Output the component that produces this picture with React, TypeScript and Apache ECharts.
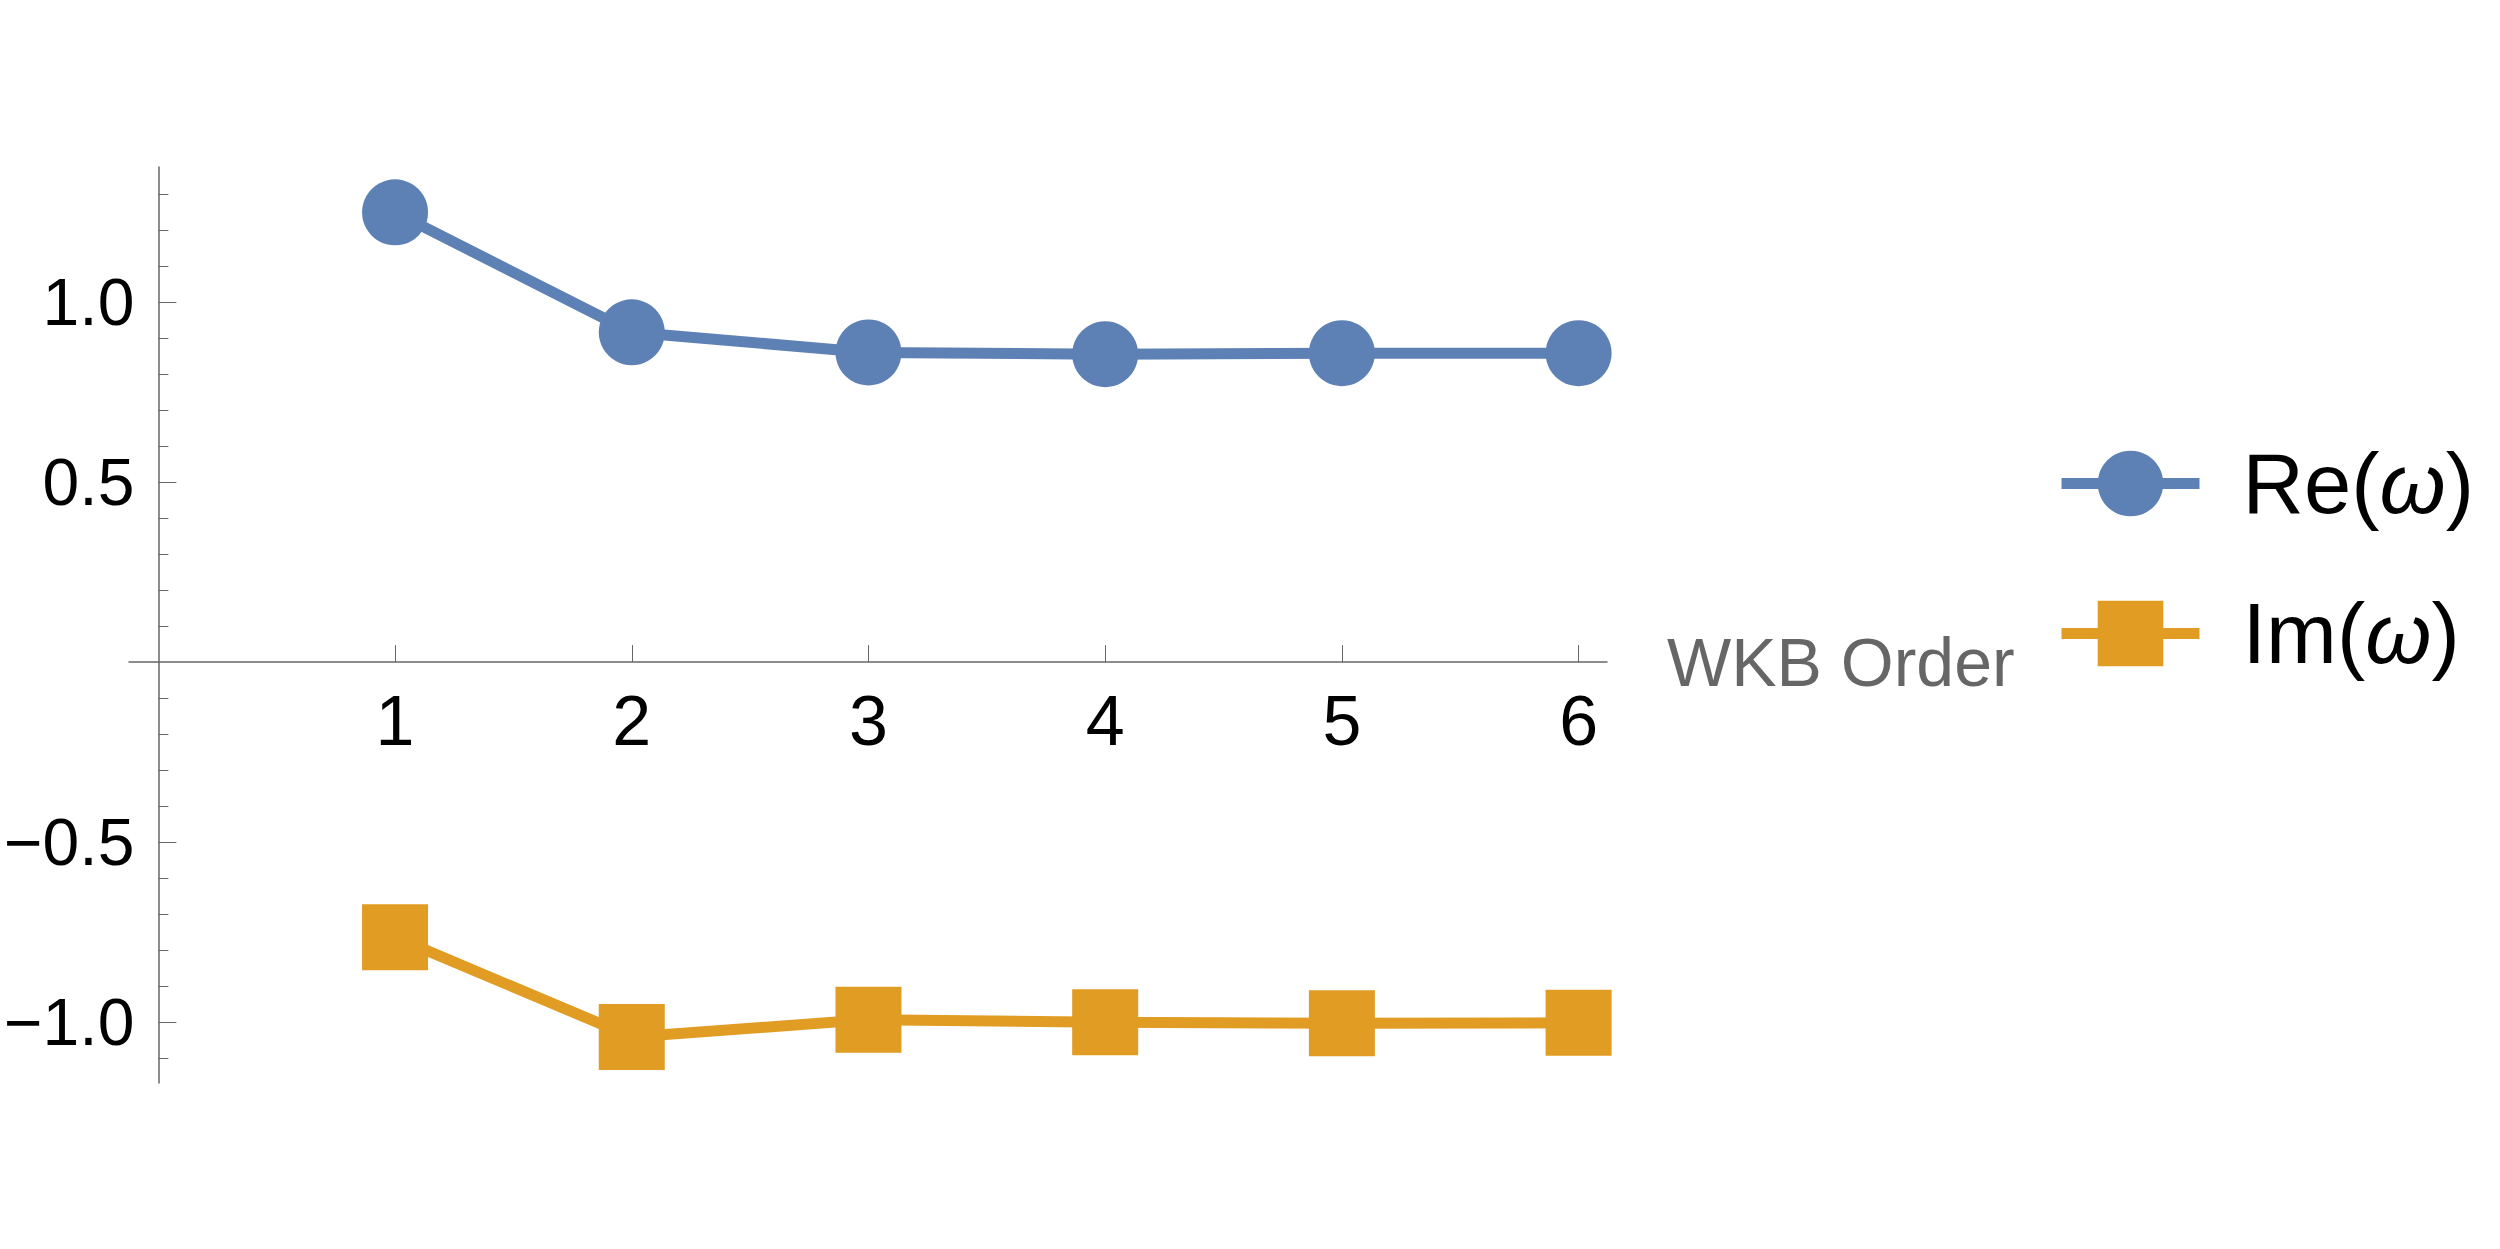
import React, { useEffect, useRef } from "react";
import * as echarts from "echarts";

const orders = [1, 2, 3, 4, 5, 6];
const reValues = [1.249, 0.916, 0.86, 0.855, 0.858, 0.858];
const imValues = [-0.764, -1.041, -0.993, -1.0, -1.003, -1.002];
const xTickValues = [1, 2, 3, 4, 5, 6];
const yMajorTicks = [-1.0, -0.5, 0.5, 1.0];
const yMinorTicks = [
  -1.1, -0.9, -0.8, -0.7, -0.6, -0.4, -0.3, -0.2, -0.1,
  0.1, 0.2, 0.3, 0.4, 0.6, 0.7, 0.8, 0.9, 1.1, 1.2, 1.3,
];
const seriesNames = ["Re(ω)", "Im(ω)"];

const FONT = "Liberation Sans, Arial, sans-serif";
const AXIS_COLOR = "#666666";
const BLUE = "#5E81B5";
const ORANGE = "#E19C24";

// grid geometry (pixels)
const GRID_LEFT = 129;
const GRID_RIGHT = 893;
const GRID_TOP = 167;
const GRID_BOTTOM = 166;
const X_MIN = -0.124;
const X_MAX = 6.12;
const Y_MIN = -1.169;
const Y_MAX = 1.375;

export default function App() {
  const ref = useRef<HTMLDivElement>(null);
  useEffect(() => {
    if (!ref.current) return;
    const chart = echarts.init(ref.current, undefined, { renderer: "svg" });
    const W = 2500;
    const H = 1249;
    const plotW = W - GRID_LEFT - GRID_RIGHT;
    const plotH = H - GRID_TOP - GRID_BOTTOM;
    // offsets to place the axes at the zero lines
    const yAxisOffset = -((0 - X_MIN) / (X_MAX - X_MIN)) * plotW;
    const xAxisOffset = -((0 - Y_MIN) / (Y_MAX - Y_MIN)) * plotH;

    const richText = {
      a: { fontSize: 85, fontFamily: FONT, color: "#000" },
      b: { fontSize: 85, fontFamily: FONT, color: "#000", fontStyle: "italic" },
    };
    const legendCommon = {
      orient: "vertical",
      left: 2056,
      padding: 0,
      itemWidth: 138,
      itemHeight: 82,
      lineStyle: { width: 11 },
      formatter: (name: string) => {
        const pre = name.slice(0, name.indexOf("(") + 1);
        return `{a|${pre}}{b|ω}{a|)}`;
      },
      textStyle: { rich: richText, padding: [0, 0, 0, 38], lineHeight: 82 },
    };
    chart.setOption({
      animation: false,
      backgroundColor: "#ffffff",
      grid: {
        left: GRID_LEFT,
        right: GRID_RIGHT,
        top: GRID_TOP,
        bottom: GRID_BOTTOM,
        containLabel: false,
        outerBoundsMode: "none",
      },
      legend: [
        { ...legendCommon, top: 441, data: [seriesNames[0]] },
        { ...legendCommon, top: 591, data: [seriesNames[1]] },
      ],
      xAxis: {
        type: "value",
        position: "bottom",
        offset: xAxisOffset,
        min: X_MIN,
        max: X_MAX,
        name: "WKB Order",
        nameLocation: "end",
        nameGap: 60,
        nameTextStyle: { fontSize: 68, fontFamily: FONT, color: AXIS_COLOR },
        axisLine: { onZero: false, lineStyle: { color: AXIS_COLOR, width: 1.5 } },
        axisTick: {
          show: true,
          inside: true,
          length: 17,
          customValues: xTickValues,
          lineStyle: { color: AXIS_COLOR, width: 1 },
        },
        axisLabel: {
          customValues: xTickValues,
          fontSize: 70,
          fontFamily: FONT,
          color: "#000",
          margin: 24,
          formatter: (v: number) => String(v),
        },
        splitLine: { show: false },
      },
      yAxis: [
        {
          type: "value",
          position: "left",
          offset: yAxisOffset,
          min: Y_MIN,
          max: Y_MAX,
          axisLine: { show: true, onZero: false, lineStyle: { color: AXIS_COLOR, width: 1.5 } },
          axisTick: {
            show: true,
            inside: true,
            length: 18,
            customValues: yMajorTicks,
            lineStyle: { color: AXIS_COLOR, width: 1 },
          },
          axisLabel: {
            customValues: yMajorTicks,
            fontSize: 66,
            fontFamily: FONT,
            color: "#000",
            margin: 24,
            formatter: (v: number) => (v < 0 ? "\u2212" + Math.abs(v).toFixed(1) : v.toFixed(1)),
          },
          splitLine: { show: false },
        },
        {
          type: "value",
          position: "left",
          offset: yAxisOffset,
          min: Y_MIN,
          max: Y_MAX,
          axisLine: { show: false, onZero: false },
          axisTick: {
            show: true,
            inside: true,
            length: 10,
            customValues: yMinorTicks,
            lineStyle: { color: AXIS_COLOR, width: 1 },
          },
          axisLabel: { show: false },
          splitLine: { show: false },
        },
      ],
      series: [
        {
          name: seriesNames[0],
          type: "line",
          xAxisIndex: 0,
          yAxisIndex: 0,
          data: orders.map((o, i) => [o, reValues[i]]),
          symbol: "circle",
          symbolSize: 66,
          lineStyle: { color: BLUE, width: 11 },
          itemStyle: { color: BLUE, borderWidth: 0 },
          clip: false,
        },
        {
          name: seriesNames[1],
          type: "line",
          xAxisIndex: 0,
          yAxisIndex: 0,
          data: orders.map((o, i) => [o, imValues[i]]),
          symbol: "rect",
          symbolSize: 66,
          lineStyle: { color: ORANGE, width: 11 },
          itemStyle: { color: ORANGE, borderWidth: 0 },
          clip: false,
        },
      ],
    });
    return () => chart.dispose();
  }, []);
  return (
    <div
      ref={ref}
      style={{ position: "fixed", left: 0, top: 0, width: 2500, height: 1249, background: "#fff" }}
    />
  );
}
